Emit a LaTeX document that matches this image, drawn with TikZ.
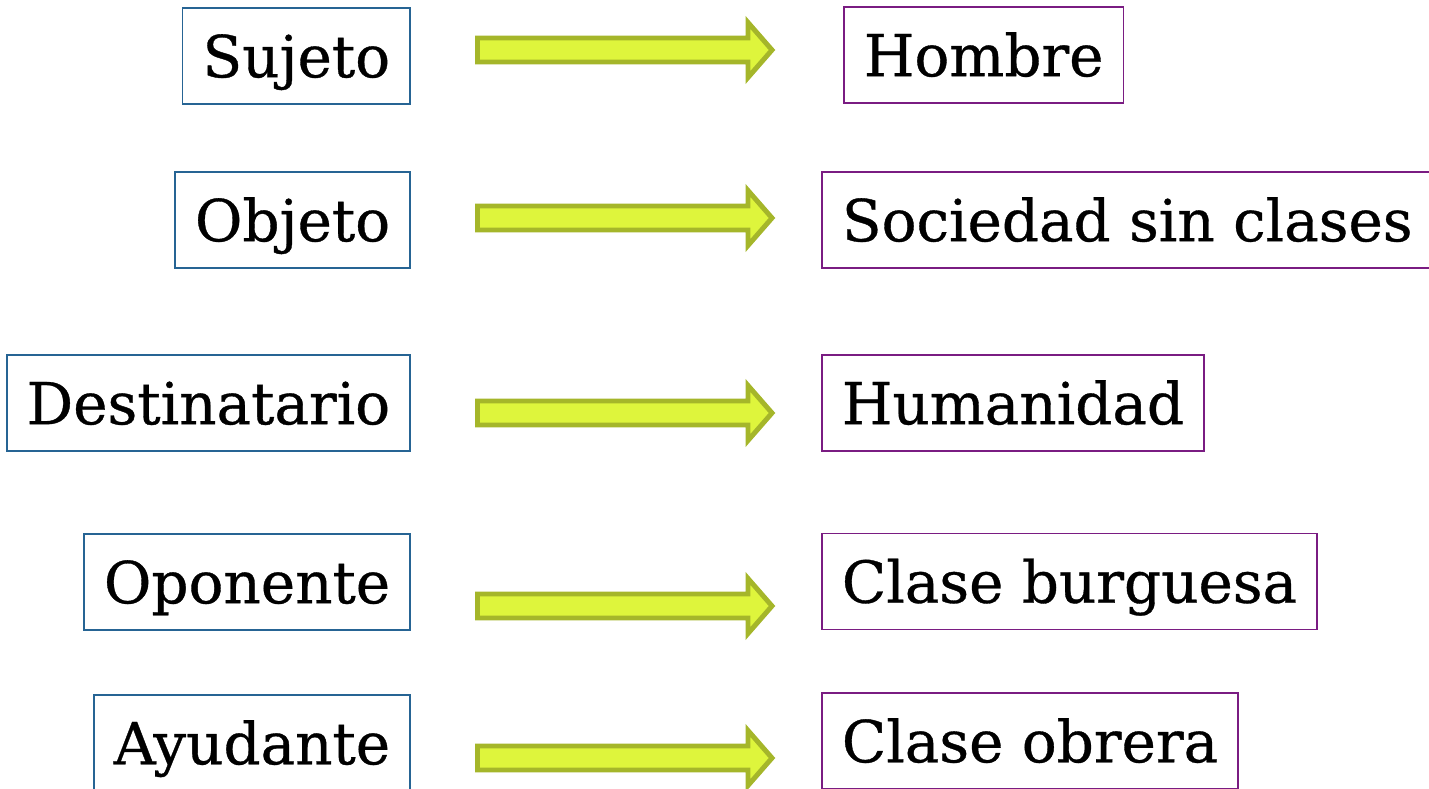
\documentclass[tikz,border=0pt]{standalone}
\usepackage{fontspec}
\setmainfont{DejaVu Serif}[FakeBold=0.6]

\definecolor{roleblue}{RGB}{38,100,148}
\definecolor{rolepurple}{RGB}{122,28,130}
\definecolor{arrowfill}{RGB}{222,245,60}
\definecolor{arrowline}{RGB}{165,182,42}

\tikzset{
    rolebox/.style={draw=roleblue, line width=1pt, inner xsep=0.4cm, inner ysep=0pt,
        minimum height=1.92cm, text height=0.85cm, text depth=0pt,
        font=\fontsize{33}{39}\selectfont, anchor=east},
    actorbox/.style={rolebox, draw=rolepurple, anchor=west},
    fatarrow/.style={draw=arrowline, fill=arrowfill, line width=2.8pt, line join=miter}
}

\begin{document}
\begin{tikzpicture}

    \useasboundingbox (0,0) rectangle (28.58,15.76);
    \clip (0,0) rectangle (28.58,15.76);

    % Actantial roles
    \node[rolebox] (sujeto) at (8.22,14.64) {Sujeto};
    \node[rolebox] (objeto) at (8.22,11.36) {Objeto};
    \node[rolebox] (destinatario) at (8.22,7.70) {Destinatario};
    \node[rolebox] (oponente) at (8.22,4.12) {Oponente};
    \node[rolebox] (ayudante) at (8.22,0.90) {Ayudante};

    % Who fills them
    \node[actorbox] (hombre) at (16.86,14.66) {Hombre};
    \node[actorbox] (sociedad) at (16.42,11.36) {Sociedad sin clases};
    \node[actorbox] (humanidad) at (16.42,7.70) {Humanidad};
    \node[actorbox] (burguesa) at (16.42,4.13) {Clase burguesa};
    \node[actorbox] (obrera) at (16.42,0.94) {Clase obrera};

    % Block arrows
    \foreach \y in {14.76,11.40,7.50,3.64,0.60} {
        \draw[fatarrow] (9.55,\y+0.24) -- (14.96,\y+0.24) -- (14.96,\y+0.55)
            -- (15.44,\y) -- (14.96,\y-0.55) -- (14.96,\y-0.24) -- (9.55,\y-0.24) -- cycle;
    }

\end{tikzpicture}
\end{document}
